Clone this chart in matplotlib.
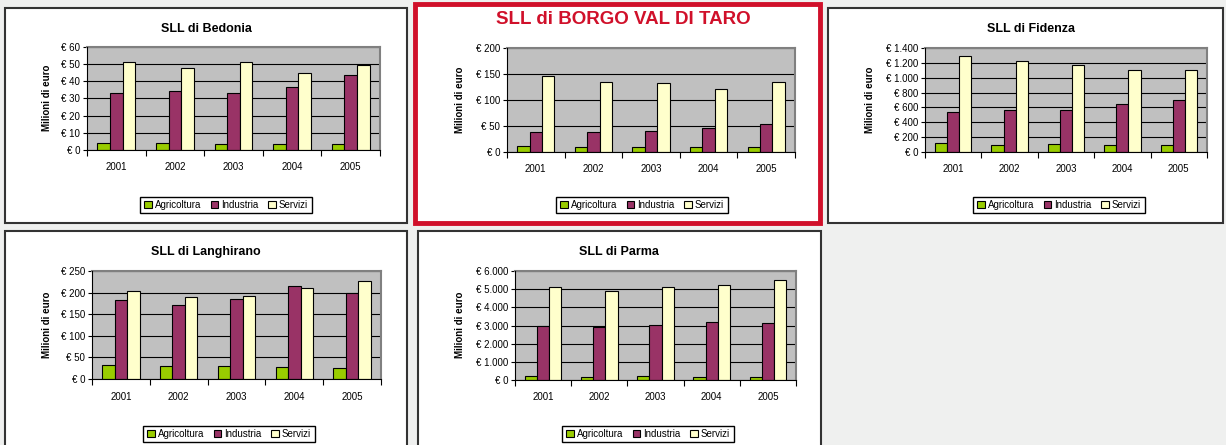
import matplotlib.pyplot as plt
from matplotlib.patches import Rectangle, Patch
import numpy as np

plt.rcParams['font.family'] = ['Liberation Sans', 'DejaVu Sans']

years = ['2001', '2002', '2003', '2004', '2005']
series_names = ['Agricoltura', 'Industria', 'Servizi']
colors = ['#99cc00', '#993366', '#ffffcc']

bedonia_agri = [4.2, 4.1, 3.6, 3.6, 3.6]
bedonia_ind = [33, 34.4, 33, 36.5, 43.7]
bedonia_serv = [51, 47.5, 51, 44.7, 49.4]

borgo_agri = [12, 10, 10, 10, 10]
borgo_ind = [39, 39, 41, 46.5, 53.5]
borgo_serv = [146, 134, 132.5, 121, 134]

fidenza_agri = [120, 98, 107, 98, 94]
fidenza_ind = [540, 566, 566, 642, 700]
fidenza_serv = [1288, 1222, 1177, 1110, 1110]

langhirano_agri = [33, 29, 30, 28, 26]
langhirano_ind = [182, 172, 185, 215, 200]
langhirano_serv = [203, 189, 192, 211, 228]

parma_agri = [200, 150, 200, 150, 150]
parma_ind = [2950, 2900, 3010, 3175, 3120]
parma_serv = [5100, 4880, 5100, 5250, 5490]

W, H = 1226, 445
fig = plt.figure(figsize=(W / 100, H / 100), dpi=100, facecolor='#eff0ef')


def frac(l, t, r, b):
    return [l / W, 1 - b / H, (r - l) / W, (b - t) / H]


def fmt(v):
    return '€ ' + f'{int(v):,}'.replace(',', '.')


def panel(box, plot, title, tpos, ylab_pos, leg_pos, data, ymax, ystep,
          red=False):
    l, t, r, b = box
    if red:
        fig.add_artist(Rectangle((l / W, 1 - b / H), (r - l) / W, (b - t) / H,
                                 transform=fig.transFigure, facecolor='white',
                                 edgecolor='#d0102a', lw=3.5, zorder=-1))
    else:
        fig.add_artist(Rectangle((l / W, 1 - b / H), (r - l) / W, (b - t) / H,
                                 transform=fig.transFigure, facecolor='white',
                                 edgecolor='#333333', lw=1.5, zorder=-1))
    ax = fig.add_axes(frac(*plot))
    ax.set_zorder(1)
    ax.set_facecolor('#c0c0c0')
    x = np.arange(len(years))
    w = 0.216
    for i, vals in enumerate(data):
        ax.bar(x + (i - 1) * w, vals, w, color=colors[i], edgecolor='black',
               lw=0.8, zorder=3)
    ax.set_xlim(-0.5, len(years) - 0.5)
    ax.set_ylim(0, ymax)
    yt = np.arange(0, ymax + 1, ystep)
    ax.set_yticks(yt)
    ax.set_yticklabels([fmt(v) for v in yt], fontsize=7)
    ax.set_xticks(x)
    ax.set_xticklabels(years, fontsize=7)
    ax.set_xticks(np.arange(-0.5, len(years)), minor=True)
    ax.tick_params(axis='x', which='major', length=0, pad=9)
    ax.tick_params(axis='x', which='minor', length=4, width=0.8)
    ax.tick_params(axis='y', length=3, width=0.8, pad=2)
    ax.grid(axis='y', color='black', lw=0.8, zorder=1)
    for s in ['top', 'right']:
        ax.spines[s].set_color('#808080')
        ax.spines[s].set_linewidth(1.5)
    for s in ['left', 'bottom']:
        ax.spines[s].set_color('black')
        ax.spines[s].set_linewidth(0.8)
        ax.spines[s].set_zorder(4)
    if red:
        fig.text(tpos[0] / W, 1 - tpos[1] / H, title, ha='center', va='center',
                 fontsize=13.5, fontweight='bold', color='#d0102a', zorder=2)
    else:
        fig.text(tpos[0] / W, 1 - tpos[1] / H, title, ha='center', va='center',
                 fontsize=9, fontweight='bold', zorder=2)
    fig.text(ylab_pos[0] / W, 1 - ylab_pos[1] / H, 'Milioni di euro',
             rotation=90, ha='center', va='center', fontsize=7,
             fontweight='bold', zorder=2)
    handles = [Patch(facecolor=c, edgecolor='black', lw=0.8) for c in colors]
    leg = fig.legend(handles, series_names, loc='center',
                     bbox_to_anchor=(leg_pos[0] / W, 1 - leg_pos[1] / H),
                     ncol=3, fontsize=7, frameon=True, fancybox=False,
                     edgecolor='black', framealpha=1, handlelength=0.8,
                     handleheight=0.8, handletextpad=0.3, columnspacing=1.0,
                     borderpad=0.35, borderaxespad=0)
    leg.set_zorder(2)


panel((5, 8, 407, 223), (87, 47, 380, 150), 'SLL di Bedonia', (206, 29),
      (47, 98), (226, 205), [bedonia_agri, bedonia_ind, bedonia_serv], 60, 10)
panel((415, 4, 820, 223), (507, 48, 795, 152), 'SLL di BORGO VAL DI TARO',
      (623, 20), (460, 100), (642, 205),
      [borgo_agri, borgo_ind, borgo_serv], 200, 50, red=True)
panel((828, 8, 1223, 223), (925, 48, 1207, 152), 'SLL di Fidenza', (1031, 29),
      (870, 100), (1059, 205), [fidenza_agri, fidenza_ind, fidenza_serv],
      1400, 200)
panel((5, 231, 407, 450), (92, 271, 381, 379), 'SLL di Langhirano', (206, 252),
      (47, 325), (229, 434),
      [langhirano_agri, langhirano_ind, langhirano_serv], 250, 50)
panel((418, 231, 821, 450), (515, 271, 796, 380), 'SLL di Parma', (619, 252),
      (460, 325), (648, 434), [parma_agri, parma_ind, parma_serv], 6000, 1000)

fig.savefig('out.png', dpi=100, facecolor=fig.get_facecolor())
